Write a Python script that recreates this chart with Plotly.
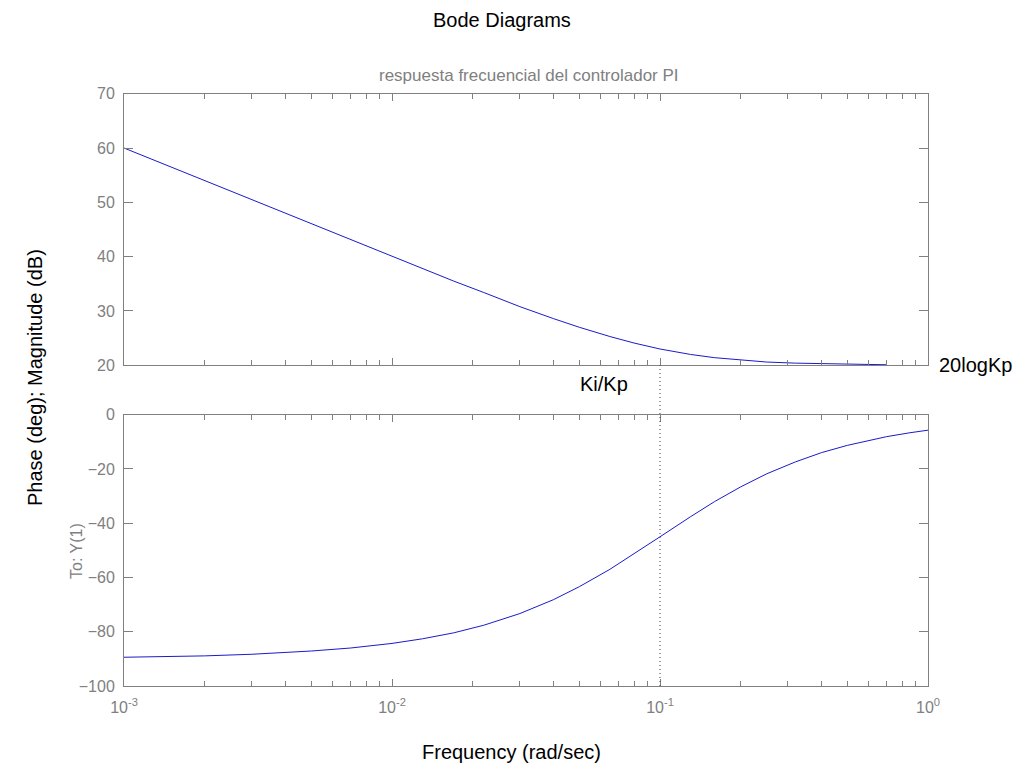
import plotly.graph_objects as go

# Frequencies (rad/sec) and values
freq_mag = [0.001, 0.0015, 0.002, 0.003, 0.004, 0.005, 0.007, 0.01, 0.013, 0.017,
            0.022, 0.03, 0.04, 0.05, 0.065, 0.08, 0.1, 0.13, 0.16, 0.2,
            0.25, 0.32, 0.4, 0.5, 0.6, 0.7]
magnitude_db = [60.0, 56.5, 54.0, 50.5, 48.0, 46.0, 43.1, 40.0, 37.8, 35.5,
                33.4, 30.8, 28.6, 27.0, 25.3, 24.1, 23.0, 22.0, 21.4, 21.0,
                20.6, 20.4, 20.3, 20.2, 20.1, 20.1]

freq_phase = [0.001, 0.0015, 0.002, 0.003, 0.004, 0.005, 0.007, 0.01, 0.013, 0.017,
              0.022, 0.03, 0.04, 0.05, 0.065, 0.08, 0.1, 0.13, 0.16, 0.2,
              0.25, 0.32, 0.4, 0.5, 0.6, 0.7, 0.85, 1.0]
phase_deg = [-89.4, -89.1, -88.9, -88.3, -87.7, -87.1, -86.0, -84.3, -82.6, -80.4,
             -77.6, -73.3, -68.2, -63.4, -57.0, -51.3, -45.0, -37.6, -32.0, -26.6,
             -21.8, -17.4, -14.0, -11.3, -9.5, -8.1, -6.7, -5.7]

x_tickvals = [0.001, 0.01, 0.1, 1]
x_ticktext = ["10<sup>-3</sup>", "10<sup>-2</sup>", "10<sup>-1</sup>", "10<sup>0</sup>"]
mag_ticks = [20, 30, 40, 50, 60, 70]
phase_ticks = [-100, -80, -60, -40, -20, 0]
ki_over_kp = 0.1

FONT = "Liberation Sans, Arial, sans-serif"
GRAY = "#808080"
LINE = "#1a1acc"

fig = go.Figure()
fig.add_trace(go.Scatter(x=freq_mag, y=magnitude_db, mode="lines",
                         line=dict(color=LINE, width=1), xaxis="x", yaxis="y",
                         showlegend=False, hoverinfo="x+y"))
fig.add_trace(go.Scatter(x=freq_phase, y=phase_deg, mode="lines",
                         line=dict(color=LINE, width=1), xaxis="x2", yaxis="y2",
                         showlegend=False, hoverinfo="x+y"))

W, H = 1025, 765
xdom = [124 / W, 928 / W]
top_dom = [1 - 365.3 / H, 1 - 93.7 / H]
bot_dom = [1 - 686 / H, 1 - 414.7 / H]

common_x = dict(type="log", range=[-3, 0], showline=True, linecolor=GRAY, linewidth=1,
                mirror="ticks", ticks="inside", ticklen=7, tickcolor=GRAY,
                tickvals=x_tickvals, ticktext=x_ticktext, showgrid=False, zeroline=False,
                automargin=False, ticklabelstandoff=7,
                tickfont=dict(family=FONT, size=16, color=GRAY),
                minor=dict(ticks="inside", ticklen=5, tickcolor=GRAY, dtick="D1", showgrid=False))
common_y = dict(showline=True, linecolor=GRAY, linewidth=1, mirror="ticks",
                ticks="inside", ticklen=9, tickcolor=GRAY, showgrid=False, zeroline=False,
                automargin=False, ticklabelstandoff=5,
                tickfont=dict(family=FONT, size=16, color=GRAY))


def pp(x, y):
    return dict(x=x / W, y=1 - y / H, xref="paper", yref="paper", showarrow=False,
                xanchor="center", yanchor="middle")


fig.update_layout(
    template="none",
    width=W, height=H,
    margin=dict(l=0, r=0, t=0, b=0, autoexpand=False),
    paper_bgcolor="white", plot_bgcolor="white",
    xaxis=dict(common_x, domain=xdom, anchor="y", showticklabels=False),
    yaxis=dict(common_y, domain=top_dom, anchor="x", range=[20, 70], tickvals=mag_ticks),
    xaxis2=dict(common_x, domain=xdom, anchor="y2"),
    yaxis2=dict(common_y, domain=bot_dom, anchor="x2", range=[-100, 0], tickvals=phase_ticks),
    shapes=[dict(type="line", xref="x2", yref="paper", x0=ki_over_kp, x1=ki_over_kp,
                 y0=bot_dom[0], y1=top_dom[0],
                 line=dict(color="#404040", width=1, dash="1px,3px"))],
    annotations=[
        dict(pp(502, 20), text="Bode Diagrams",
             font=dict(family=FONT, size=20, color="black")),
        dict(pp(529, 76), text="respuesta frecuencial del controlador PI",
             font=dict(family=FONT, size=17, color=GRAY)),
        dict(pp(35, 378), text="Phase (deg); Magnitude (dB)", textangle=-90,
             font=dict(family=FONT, size=20, color="black")),
        dict(pp(76, 551), text="To: Y(1)", textangle=-90,
             font=dict(family=FONT, size=16, color=GRAY)),
        dict(pp(511, 752), text="Frequency (rad/sec)",
             font=dict(family=FONT, size=20, color="black")),
        dict(pp(604, 384), text="Ki/Kp",
             font=dict(family=FONT, size=20, color="black")),
        dict(pp(975, 365), text="20logKp",
             font=dict(family=FONT, size=20, color="black")),
    ],
)

fig.write_html("out.html", config={"displayModeBar": False},
               post_script="document.body.style.margin='0';")
